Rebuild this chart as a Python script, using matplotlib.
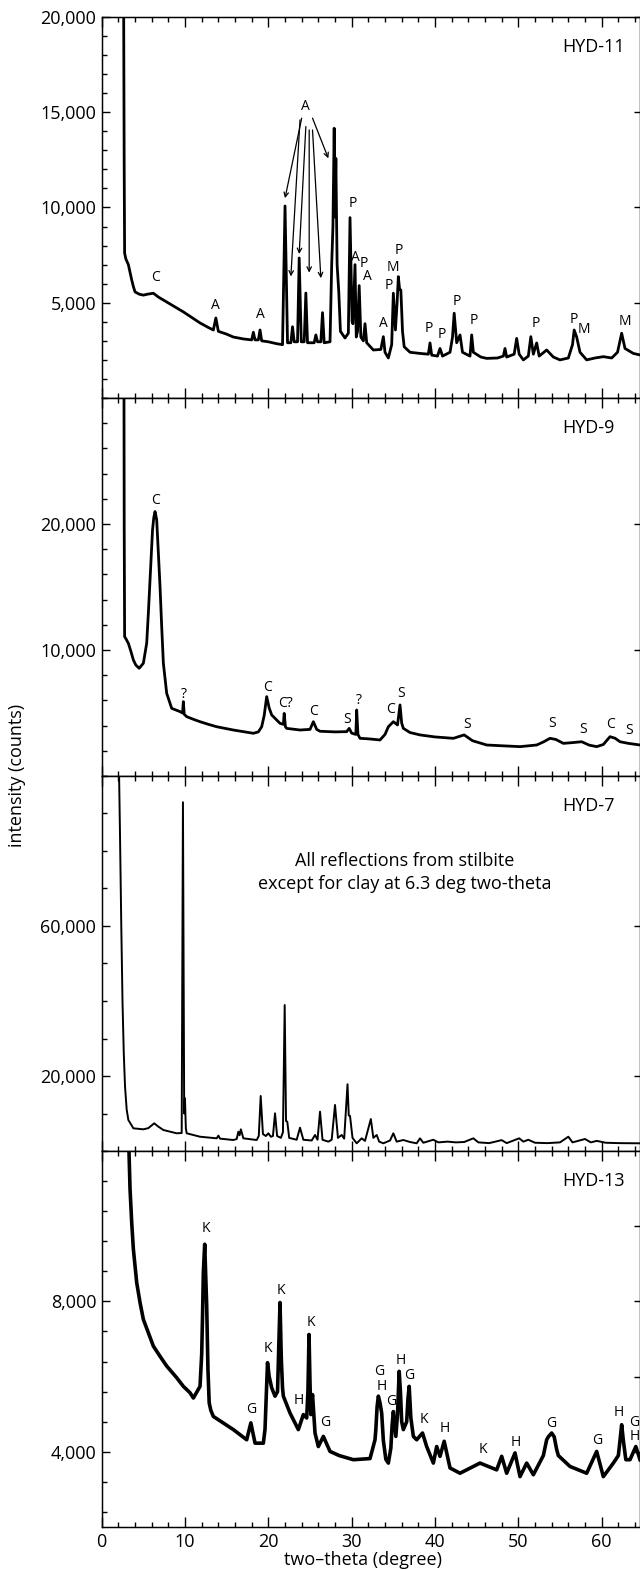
import numpy as np
import matplotlib
matplotlib.use('Agg')
import matplotlib.pyplot as plt
from matplotlib.ticker import MultipleLocator, FixedLocator, FuncFormatter, NullLocator

plt.rcParams['font.family'] = ['Open Sans', 'DejaVu Sans']

# ---- traces: (two-theta, counts) ----
hyd11_trace = [
    (2.6, 25000), (2.7, 12000), (2.75, 7600), (2.9, 7300), (3.2, 7000), (3.4, 6600), (3.6, 6200),
    (3.8, 5850), (4.0, 5570), (4.5, 5450),
    (5.0, 5400), (5.5, 5450), (6.2, 5500), (6.8, 5300), (7.8, 5040), (8.8, 4780), (9.8, 4520),
    (10.8, 4230), (11.8, 3940), (12.8, 3700), (13.4, 3570), (13.7, 4200), (14.0, 3500), (15.0, 3350),
    (15.8, 3200), (17.0, 3100), (18.0, 3050), (18.2, 3450), (18.4, 3050), (18.8, 3050), (19.0, 3570),
    (19.2, 3000), (20.0, 2950), (21.0, 2850), (21.7, 2800), (22.0, 10080), (22.3, 2900), (22.7, 2900),
    (22.9, 3740), (23.1, 2950), (23.5, 2950), (23.7, 7350), (23.95, 2950), (24.3, 2950), (24.5, 5510),
    (24.7, 2900), (25.5, 2900), (25.7, 3310), (25.9, 2950), (26.3, 2950), (26.5, 4480), (26.7, 2900),
    (27.4, 2950), (27.6, 7000), (27.75, 9000), (27.9, 14160), (28.0, 9500), (28.1, 12580),
    (28.25, 7000), (28.45, 5580), (28.65, 3500), (29.2, 3150), (29.6, 3400), (29.8, 9470),
    (30.05, 4000), (30.15, 3900), (30.4, 7000), (30.55, 3200), (30.7, 3500), (30.9, 5900),
    (31.1, 3200), (31.4, 3000), (31.6, 3900), (31.8, 2900), (32.6, 2520), (33.5, 2550), (33.8, 3220),
    (34.0, 2400), (34.4, 2100), (34.8, 2800), (35.0, 5500), (35.25, 3570), (35.45, 5000),
    (35.6, 6370), (35.75, 5700), (35.9, 5670), (36.1, 3500), (36.3, 2690), (37.0, 2400), (38.2, 2340),
    (39.2, 2300), (39.4, 2890), (39.6, 2250), (40.3, 2200), (40.6, 2600), (40.9, 2200), (41.8, 2400),
    (42.1, 3200), (42.3, 4450), (42.6, 2900), (43.0, 3310), (43.3, 2400), (44.2, 2200), (44.4, 3310),
    (44.6, 2400), (45.5, 2150), (46.2, 2080), (47.5, 2100), (48.2, 2200), (48.4, 2600), (48.6, 2150),
    (49.5, 2300), (49.8, 3130), (50.1, 2300), (50.6, 2000), (51.2, 2200), (51.5, 3220), (51.8, 2300),
    (52.2, 2890), (52.5, 2200), (53.4, 2520), (54.2, 2150), (55.0, 2000), (56.0, 2100), (56.5, 2800),
    (56.7, 3570), (57.0, 3200), (57.4, 2400), (58.2, 2000), (59.2, 2100), (60.2, 2170), (61.2, 2100),
    (61.9, 2400), (62.4, 3400), (62.8, 2600), (63.8, 2340), (64.6, 2260),
]
hyd9_trace = [
    (2.65, 40000), (2.7, 20000), (2.75, 11060), (2.9, 10900), (3.2, 10530), (3.5, 9900), (3.8, 9210),
    (4.1, 8800), (4.5, 8550), (5.0, 8950),
    (5.4, 10540), (5.6, 12940), (5.8, 15560), (6.1, 19530), (6.25, 20500), (6.4, 20990), (6.6, 20330),
    (6.8, 17700), (7.0, 15030), (7.2, 11860), (7.4, 8950),
    (7.8, 6560), (8.4, 5370), (9.4, 5110), (9.7, 5000), (9.8, 5900), (9.9, 4900), (10.2, 4710),
    (11.0, 4500), (11.8, 4310), (12.8, 4100), (13.8, 3910), (15.8, 3650), (18.2, 3390), (18.8, 3500),
    (19.2, 3910), (19.5, 4800), (19.8, 6300), (20.1, 5400), (20.4, 4840), (21.4, 4180), (21.8, 4100),
    (21.9, 4970), (22.05, 3900),
    (22.2, 3780), (23.8, 3650), (25.0, 3700), (25.4, 4310), (25.8, 3700), (26.2, 3550), (28.0, 3500),
    (29.4, 3520), (29.7, 3780), (30.0, 3400), (30.5, 3300), (30.6, 5240), (30.75, 3300), (31.0, 2990),
    (32.0, 2950), (33.4, 2860), (34.0, 3300), (34.4, 3910), (35.0, 4310), (35.5, 4050), (35.8, 5640),
    (36.0, 4200), (36.2, 3780), (37.0, 3450), (38.2, 3260), (40.0, 3100), (42.2, 2990), (43.5, 3260),
    (44.5, 2800), (46.2, 2460), (48.0, 2400), (50.2, 2330), (52.2, 2460), (53.0, 2700), (53.8, 2990),
    (54.5, 2900), (55.4, 2590), (56.5, 2650), (57.6, 2720), (58.5, 2450), (59.4, 2330), (60.2, 2500),
    (61.0, 3120), (61.6, 3000), (62.2, 2720), (63.2, 2590), (64.6, 2460),
]
hyd7_trace = [
    (1.95, 120000), (2.2, 83800), (2.35, 60000), (2.5, 39470), (2.65, 26000), (2.8, 17150),
    (3.0, 11000), (3.2, 8270), (3.8, 6050), (5.0, 5780),
    (5.6, 6100), (6.3, 7380), (6.8, 6500), (7.4, 5600), (9.0, 4720), (9.6, 4800), (9.75, 93000),
    (9.9, 10000), (9.99, 14050), (10.1, 6000), (10.2, 4720), (11.8, 3810), (13.8, 3380), (14.0, 4100),
    (14.2, 3300), (15.8, 2930), (16.2, 3200), (16.4, 5150), (16.55, 4200), (16.7, 5780), (17.0, 3380),
    (18.6, 2930), (18.85, 4000), (19.08, 14670), (19.35, 4500), (19.7, 4000), (20.0, 4720),
    (20.3, 3800), (20.55, 4000), (20.8, 10050), (21.05, 4000), (21.5, 3500), (21.75, 5000),
    (21.96, 38930), (22.12, 8000), (22.27, 7820), (22.5, 3500), (23.4, 3000), (23.8, 6220),
    (24.2, 3000), (25.2, 2800), (25.6, 4270), (25.9, 3000), (26.2, 10490), (26.5, 3000), (27.2, 2490),
    (27.6, 3000), (28.0, 12270), (28.35, 3500), (28.8, 4270), (29.1, 3300), (29.5, 17790),
    (29.65, 9500), (29.8, 9330), (30.1, 3500), (30.6, 2050), (31.2, 3380), (31.6, 2700), (32.3, 8530),
    (32.6, 3500), (33.0, 4270), (33.3, 2500), (33.8, 2050), (34.6, 2800), (35.0, 4720), (35.4, 2500),
    (36.2, 2930), (37.0, 2400), (37.8, 2050), (38.2, 3380), (38.6, 2200), (39.8, 3000), (40.4, 2300),
    (41.5, 2500), (42.5, 2300), (43.5, 2400), (44.6, 3380), (45.2, 2300), (46.5, 2100), (48.0, 2900),
    (48.6, 2100), (50.1, 3380), (50.6, 2500), (51.2, 3000), (52.0, 2200), (53.5, 2100), (55.0, 2300),
    (56.0, 3810), (56.5, 2300), (58.0, 3200), (58.7, 2300), (59.4, 2700), (60.5, 2200), (62.0, 2100),
    (64.6, 2050),
]
hyd13_trace = [
    (3.15, 13000), (3.4, 10990), (3.6, 10100), (3.8, 9390), (4.2, 8500), (4.6, 7970), (5.0, 7520),
    (6.2, 6810), (7.0, 6540), (7.8, 6280), (9.0, 5970), (9.8, 5740), (10.6, 5570), (11.0, 5430),
    (11.8, 5740), (12.0, 6600), (12.1, 7600), (12.2, 8770), (12.36, 9520), (12.6, 7880), (12.75, 6200),
    (12.9, 5300), (13.1, 5100), (13.4, 4940), (15.8, 4590), (17.4, 4320), (17.9, 4770), (18.4, 4230),
    (19.4, 4230), (19.6, 4600), (19.75, 5500), (19.9, 6370), (20.1, 6000), (20.4, 5700), (20.8, 5480),
    (21.1, 5600), (21.25, 6800), (21.4, 7970), (21.55, 6500), (21.7, 5700), (21.8, 5480), (22.6, 5030),
    (23.6, 4590), (24.2, 4990), (24.6, 4900), (24.75, 5600), (24.88, 7120), (25.0, 5800), (25.1, 4990),
    (25.3, 5520), (25.6, 4500), (26.0, 4140), (26.2, 4230), (26.6, 4410), (27.4, 4010), (28.5, 3900),
    (30.2, 3790), (32.2, 3820), (32.8, 4320), (32.9, 4600), (33.05, 5200), (33.2, 5480), (33.4, 5300),
    (33.6, 5030), (33.8, 4300), (34.1, 3800), (34.4, 3700), (34.7, 4100), (34.85, 4700), (35.0, 5070),
    (35.3, 4410), (35.5, 5000), (35.7, 6140), (35.85, 5600), (36.0, 4800), (36.2, 4590), (36.6, 4800),
    (36.75, 5400), (36.9, 5740), (37.1, 4900), (37.4, 4410), (37.8, 4320), (38.5, 4500), (39.0, 4140),
    (39.8, 3700), (40.2, 4140), (40.6, 3880), (41.1, 4280), (41.8, 3570), (43.0, 3430), (45.4, 3700),
    (47.4, 3520), (48.0, 3880), (48.6, 3430), (49.6, 3970), (50.2, 3340), (51.0, 3700), (51.8, 3390),
    (53.0, 3900), (53.4, 4320), (53.6, 4400), (54.0, 4500), (54.3, 4400), (54.6, 4060), (54.8, 3900),
    (56.2, 3610), (58.2, 3430), (59.4, 4010), (60.2, 3340), (61.4, 3700), (62.0, 3900), (62.2, 4300),
    (62.4, 4720), (62.6, 4300), (62.9, 3790), (63.4, 3790), (64.1, 4140), (64.6, 3790),
]

# ---- phase labels: (text, two-theta, counts) ----
hyd11_labels = [
    ('C', 6.5, 6300), ('A', 13.7, 4880), ('A', 19.1, 4360), ('A', 24.5, 15300),
    ('P', 30.1, 10220), ('A', 30.5, 7370), ('P', 31.4, 7070), ('A', 31.9, 6400), ('A', 33.8, 3920),
    ('P', 34.5, 5930), ('M', 34.9, 6860), ('P', 35.7, 7730), ('P', 39.3, 3660), ('P', 40.8, 3310),
    ('P', 42.6, 5060), ('P', 44.6, 4060), ('P', 52.1, 3920), ('P', 56.7, 4100), ('M', 57.9, 3570),
    ('M', 62.8, 4010),
]
hyd11_arrows = [  # (start x, start y, end x, end y)
    (24.0, 14690, 22.0, 10490), (23.8, 14600, 22.7, 6380), (24.5, 14250, 23.7, 7560),
    (24.9, 14070, 24.9, 6580), (25.3, 14070, 26.3, 6290), (25.3, 14690, 27.2, 12580),
]
hyd9_labels = [
    ('C', 6.4, 21860), ('?', 9.9, 6430), ('C', 19.9, 7040), ('C?', 22.1, 5770), ('C', 25.4, 5110),
    ('S', 29.5, 4500), ('?', 30.8, 6030), ('C', 34.6, 5240), ('S', 35.9, 6560), ('S', 43.8, 4050),
    ('S', 54.1, 4180), ('S', 57.8, 3700), ('C', 61.1, 4050), ('S', 63.3, 3650),
]
hyd13_labels = [
    ('K', 12.5, 9940), ('G', 17.9, 5120), ('K', 19.9, 6740), ('K', 21.5, 8300), ('H', 23.6, 5370),
    ('K', 25.1, 7450), ('G', 26.8, 4780), ('G', 33.3, 6140), ('H', 33.6, 5740), ('G', 34.7, 5330),
    ('H', 35.9, 6430), ('G', 36.9, 6040), ('K', 38.7, 4850), ('H', 41.2, 4630), ('K', 45.7, 4050),
    ('H', 49.7, 4260), ('G', 53.9, 4750), ('G', 59.5, 4300), ('H', 62.1, 5050), ('G', 63.9, 4780),
    ('H', 64.0, 4410),
]

names = ['HYD-11', 'HYD-9', 'HYD-7', 'HYD-13']
traces = [hyd11_trace, hyd9_trace, hyd7_trace, hyd13_trace]
labels = [hyd11_labels, hyd9_labels, [], hyd13_labels]
ylims = [(0, 20000), (0, 30000), (0, 100000), (2000, 12000)]
left_major = [[5000, 10000, 15000, 20000], [10000, 20000], [20000, 60000], [4000, 8000]]
left_minor = [1000, 2000, 10000, 800]
right_major = [[5000, 10000, 15000, 20000], [10000, 20000], [20000, 60000], [4000, 6000, 8000, 10000]]
line_w = [2.0, 2.0, 1.4, 2.6]

W, H = 640, 1570
tops = [17, 398, 776, 1151]
bots = [398, 776, 1151, 1527]
x0_px = 101.7

fig = plt.figure(figsize=(W / 100, H / 100), dpi=100)
fmt = FuncFormatter(lambda v, p: '{:,}'.format(int(v)))

axes = []
for i in range(4):
    ax = fig.add_axes([x0_px / W, 1 - bots[i] / H, (W - x0_px) / W, (bots[i] - tops[i]) / H])
    xy = np.array(traces[i])
    ax.plot(xy[:, 0], xy[:, 1], color='black', lw=line_w[i], solid_joinstyle='round')
    ax.set_xlim(0, 64.6)
    ax.set_ylim(*ylims[i])

    ax.xaxis.set_major_locator(MultipleLocator(10))
    ax.xaxis.set_minor_locator(MultipleLocator(2))
    ax.yaxis.set_major_locator(FixedLocator(left_major[i]))
    ax.yaxis.set_minor_locator(MultipleLocator(left_minor[i]))
    ax.yaxis.set_major_formatter(fmt)

    ax.tick_params(axis='both', which='both', direction='in', width=1, labelsize=13)
    ax.tick_params(axis='x', which='major', length=7, top=True, bottom=True, pad=4)
    ax.tick_params(axis='x', which='minor', length=3.5, top=True, bottom=True)
    ax.tick_params(axis='y', which='major', length=6, left=True, right=False, pad=4)
    ax.tick_params(axis='y', which='minor', length=3.5, left=True, right=False)
    if i < 3:
        ax.tick_params(axis='x', labelbottom=False)
    for s in ax.spines.values():
        s.set_linewidth(1.0)

    # right side only carries a few unlabelled ticks
    axr = ax.twinx()
    axr.set_ylim(*ylims[i])
    axr.yaxis.set_major_locator(FixedLocator(right_major[i]))
    axr.yaxis.set_minor_locator(NullLocator())
    axr.tick_params(axis='y', direction='in', length=4, width=1, labelright=False)

    ax.text(0.856, 1 - 30 / (bots[i] - tops[i]), names[i], transform=ax.transAxes,
            ha='left', va='center', fontsize=13)
    for t, lx, ly in labels[i]:
        ax.text(lx, ly, t, ha='center', va='center', fontsize=10)
    axes.append(ax)

for sx, sy, ex, ey in hyd11_arrows:
    axes[0].annotate('', xy=(ex, ey), xytext=(sx, sy),
                     arrowprops=dict(arrowstyle='->', lw=0.9, color='black',
                                     mutation_scale=8, shrinkA=0, shrinkB=0))

axes[2].text(0.5634, 0.7427, 'All reflections from stilbite\nexcept for clay at 6.3 deg two-theta',
             transform=axes[2].transAxes, ha='center', va='center', fontsize=13, linespacing=1.35)

fig.text(17.5 / W, 1 - 775 / H, 'intensity (counts)', rotation=90, ha='center', va='center', fontsize=13)
fig.text(363 / W, 1 - 1560 / H, 'two\u2013theta (degree)', ha='center', va='center', fontsize=13)

fig.savefig('out.png', dpi=100)
